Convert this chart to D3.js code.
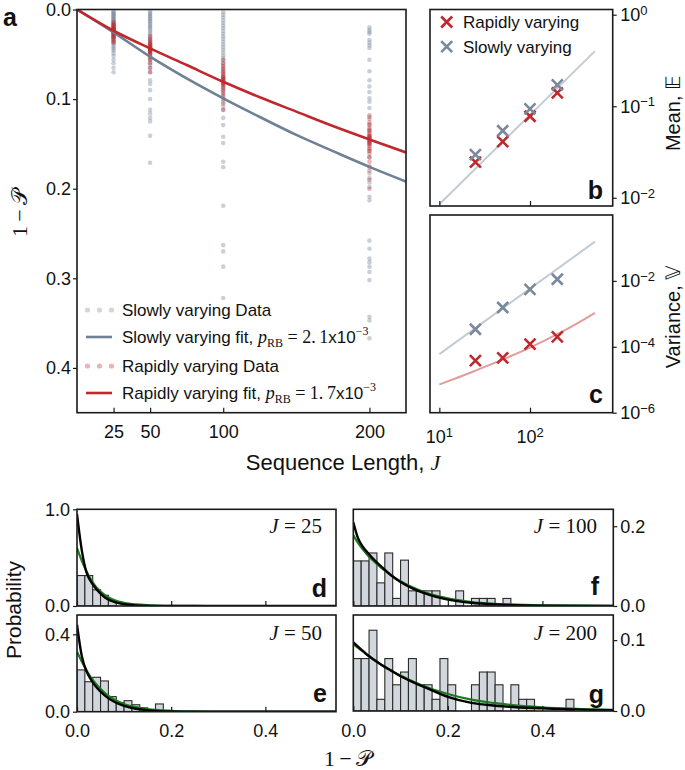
<!DOCTYPE html>
<html><head><meta charset="utf-8">
<script src="https://cdn.jsdelivr.net/npm/d3@7"></script>
<style>body{margin:0;background:#fff} svg{display:block}</style>
</head><body><svg id="chart" width="685" height="770"></svg>
<script>
// ---------------- DATA ----------------
const seqLengths = [25, 50, 100, 200];
const aTicksY = [0.0, 0.1, 0.2, 0.3, 0.4];
// panel a: individual sequence results, 1-P
const slowData25 = [0.002,0.003,0.004,0.005,0.006,0.007,0.008,0.009,0.010,0.011,0.012,0.013,0.014,0.015,0.016,0.017,0.018,0.019,0.020,0.021,0.022,0.023,0.024,0.025,0.026,0.027,0.028,0.030,0.031,0.033,0.034,0.036,0.038,0.040,0.042,0.044,0.046,0.049,0.052,0.056,0.060,0.065,0.070];
const slowData50 = [0.002,0.004,0.005,0.007,0.008,0.010,0.011,0.013,0.014,0.016,0.018,0.019,0.021,0.023,0.025,0.027,0.029,0.031,0.033,0.035,0.037,0.039,0.041,0.043,0.045,0.047,0.050,0.053,0.056,0.059,0.062,0.066,0.070,0.079,0.083,0.090,0.100,0.112,0.116,0.121,0.125,0.141,0.171];
const slowData100 = [0.003,0.006,0.009,0.012,0.015,0.018,0.021,0.024,0.027,0.030,0.033,0.036,0.039,0.042,0.045,0.048,0.051,0.054,0.057,0.060,0.063,0.066,0.070,0.074,0.078,0.082,0.086,0.090,0.094,0.098,0.103,0.108,0.112,0.121,0.129,0.142,0.149,0.170,0.176,0.219,0.263,0.270,0.287,0.322];
const slowData200 = [0.020,0.023,0.025,0.027,0.034,0.037,0.040,0.043,0.056,0.069,0.079,0.086,0.092,0.099,0.103,0.110,0.120,0.128,0.135,0.142,0.150,0.158,0.165,0.176,0.183,0.188,0.193,0.198,0.209,0.213,0.258,0.267,0.278,0.282,0.287,0.293,0.302,0.343,0.347,0.367];
const rapidData25 = [0.014,0.016,0.017,0.018,0.019,0.020,0.021,0.022,0.022,0.023,0.023,0.024,0.024,0.025,0.025,0.026,0.027,0.028,0.029,0.030,0.031,0.032,0.034,0.036,0.037];
const rapidData50 = [0.030,0.033,0.035,0.037,0.038,0.039,0.040,0.041,0.042,0.043,0.043,0.044,0.045,0.045,0.046,0.047,0.048,0.049,0.050,0.052,0.054,0.056,0.060,0.065,0.070];
const rapidData100 = [0.056,0.060,0.063,0.066,0.068,0.070,0.072,0.074,0.075,0.076,0.077,0.078,0.079,0.080,0.081,0.082,0.083,0.084,0.086,0.088,0.090,0.093,0.096,0.100,0.105,0.112];
const rapidData200 = [0.118,0.122,0.126,0.129,0.132,0.134,0.136,0.138,0.140,0.141,0.142,0.143,0.144,0.145,0.146,0.147,0.148,0.149,0.150,0.152,0.154,0.156,0.158,0.161,0.165,0.170,0.175,0.180,0.190,0.200];
// panel a fits
const fitJ = [0, 25, 50, 75, 100, 125, 150, 175, 200, 225];
const slowFit = [0, 0.0255, 0.0527, 0.0770, 0.0992, 0.1200, 0.1400, 0.1580, 0.1756, 0.1920];
const rapidFit = [0, 0.0237, 0.0434, 0.0620, 0.0807, 0.0980, 0.1140, 0.1300, 0.1450, 0.1596];
// panel b: mean
const meanRapid = [0.0245, 0.041, 0.0778, 0.140];
const meanSlow = [0.0296, 0.054, 0.0934, 0.171];
const meanFitJ = [10, 520];
const meanFit = [0.0085, 0.40];
const bTicks = [1, 0.1, 0.01];
const bTickExp = ["0", "\u22121", "\u22122"];
// panel c: variance
const varRapid = [3.8e-5, 4.6e-5, 1.2e-4, 2.0e-4];
const varSlow = [3.4e-4, 1.56e-3, 5.5e-3, 0.0112];
const varFitJ = [10, 15, 25, 40, 50, 70, 100, 150, 200, 300, 400, 520];
const varFitRapid = [7.2e-6, 1.09e-5, 1.89e-5, 3.18e-5, 4.1e-5, 6.1e-5, 9.5e-5, 1.62e-4, 2.42e-4, 4.41e-4, 6.92e-4, 1.07e-3];
const varFitSlowJ = [10, 520];
const varFitSlow = [6e-5, 0.155];
const cTicks = [1e-2, 1e-4, 1e-6];
const cTickExp = ["\u22122", "\u22124", "\u22126"];
const bcXTicks = [10, 100];
const bcXTickExp = ["1", "2"];
// histograms (bin width 1/60)
const binWidth = 1 / 60;
const histD = [0.315, 0.315, 0.167, 0.111, 0.056];
const histE = [0.216, 0.155, 0.178, 0.159, 0.078, 0.047, 0.057, 0.036, 0.020, 0, 0.040];
const histF = [0.113, 0.113, 0.133, 0.058, 0.133, 0.019, 0.115, 0.038, 0.038, 0.038, 0.038, 0, 0, 0.038, 0, 0.019, 0.019, 0.019, 0, 0.019];
const histG = [0.074, 0.074, 0.114, 0.0165, 0.074, 0.037, 0.055, 0.074, 0.037, 0.037, 0.0165, 0.074, 0.037, 0, 0, 0.037, 0.055, 0.055, 0.037, 0, 0.037, 0.0165, 0.0165, 0, 0, 0, 0, 0.0165];
const curveX = [0, 0.01, 0.02, 0.03, 0.04, 0.06, 0.08, 0.1, 0.125, 0.15, 0.2, 0.25, 0.3, 0.4, 0.55];
const blackD = [0.95, 0.58, 0.35, 0.25, 0.18, 0.085, 0.04, 0.018, 0.006, 0.002, 0, 0, 0, 0, 0];
const greenD = [0.60, 0.47, 0.36, 0.27, 0.20, 0.11, 0.06, 0.033, 0.016, 0.008, 0.002, 0.0005, 0, 0, 0];
const blackE = [0.45, 0.29, 0.21, 0.165, 0.13, 0.082, 0.05, 0.03, 0.015, 0.007, 0.0015, 0.0003, 0, 0, 0];
const greenE = [0.31, 0.26, 0.215, 0.175, 0.145, 0.095, 0.062, 0.04, 0.024, 0.014, 0.005, 0.0017, 0.0005, 0, 0];
const blackF = [0.21, 0.17, 0.149, 0.134, 0.121, 0.098, 0.077, 0.06, 0.044, 0.032, 0.016, 0.008, 0.004, 0.001, 0];
const greenF = [0.178, 0.158, 0.142, 0.128, 0.116, 0.095, 0.077, 0.062, 0.047, 0.035, 0.019, 0.01, 0.0055, 0.0015, 0.0002];
const blackG = [0.097, 0.091, 0.085, 0.079, 0.074, 0.065, 0.057, 0.049, 0.041, 0.034, 0.02, 0.0115, 0.0075, 0.0037, 0.0012];
const greenG = [0.094, 0.089, 0.084, 0.079, 0.074, 0.065, 0.057, 0.05, 0.042, 0.035, 0.024, 0.016, 0.011, 0.005, 0.0017];
const histXTicks = [0, 0.2, 0.4];

// ---------------- DRAWING ----------------
const svg = d3.select("#chart");
const SANS = '"Liberation Sans", Arial, sans-serif';
const SERIF = '"Liberation Serif", "DejaVu Serif", serif';
const RED = "#c0282d", SLATE = "#708095", SLATE_PT = "#7a899c", LIGHT = "#c3cbd3", LRED = "#e39c9c", GREEN = "#1f7a1f";

function addClip(id, p) {
  svg.append("clipPath").attr("id", id).append("rect")
    .attr("x", p.x0).attr("y", p.y0).attr("width", p.x1 - p.x0).attr("height", p.y1 - p.y0);
}
function frame(p) {
  svg.append("rect").attr("x", p.x0).attr("y", p.y0).attr("width", p.x1 - p.x0).attr("height", p.y1 - p.y0)
    .attr("fill", "none").attr("stroke", "#1a1a1a").attr("stroke-width", 1.6);
}
function styleAxis(g, size) {
  g.select(".domain").remove();
  g.selectAll("text").attr("font-family", SANS).attr("font-size", size).attr("fill", "#111");
  g.selectAll("line").attr("stroke", "#1a1a1a").attr("stroke-width", 1.2);
}
function powLabel(x, y, exp, anchor) {
  const t = svg.append("text").attr("x", x).attr("y", y).attr("font-family", SANS)
    .attr("font-size", 18).attr("fill", "#111").attr("text-anchor", anchor || "start");
  t.append("tspan").text("10");
  t.append("tspan").attr("dy", "-0.5em").attr("font-size", 13).text(exp);
}
function panelLabel(x, y, s) {
  svg.append("text").attr("x", x).attr("y", y).attr("text-anchor", "end").attr("font-family", SANS)
    .attr("font-weight", "bold").attr("font-size", 25).attr("fill", "#111").text(s);
}
function xMark(g, x, y, color) {
  g.append("path").attr("transform", `translate(${x},${y})`).attr("d", "M-5.5,-5.5L5.5,5.5M-5.5,5.5L5.5,-5.5")
    .attr("stroke", color).attr("stroke-width", 2.6).attr("fill", "none");
}

// ---- Panel a ----
const A = {x0: 77, x1: 406, y0: 9.5, y1: 412.7};
const xA = d3.scaleLinear().domain([0, 225]).range([A.x0, A.x1]);
const yA = d3.scaleLinear().domain([0, 0.45]).range([A.y0, A.y1]);
addClip("clipA", A);
const gA = svg.append("g").attr("clip-path", "url(#clipA)");
const slowAll = [slowData25, slowData50, slowData100, slowData200];
const rapidAll = [rapidData25, rapidData50, rapidData100, rapidData200];
slowAll.forEach((arr, i) => {
  gA.selectAll(null).data(arr).join("circle").attr("cx", xA(seqLengths[i])).attr("cy", d => yA(d))
    .attr("r", 2.3).attr("fill", SLATE_PT).attr("fill-opacity", 0.4);
});
rapidAll.forEach((arr, i) => {
  gA.selectAll(null).data(arr).join("circle").attr("cx", xA(seqLengths[i])).attr("cy", d => yA(d))
    .attr("r", 2.3).attr("fill", RED).attr("fill-opacity", 0.35);
});
const lineA = d3.line().x(d => xA(d[0])).y(d => yA(d[1])).curve(d3.curveMonotoneX);
gA.append("path").attr("d", lineA(fitJ.map((j, i) => [j, slowFit[i]]))).attr("fill", "none").attr("stroke", SLATE).attr("stroke-width", 2.6);
gA.append("path").attr("d", lineA(fitJ.map((j, i) => [j, rapidFit[i]]))).attr("fill", "none").attr("stroke", RED).attr("stroke-width", 2.6);
frame(A);
svg.append("g").attr("transform", `translate(0,${A.y1})`)
  .call(d3.axisBottom(xA).tickValues(seqLengths).tickSizeInner(-5).tickSizeOuter(0).tickPadding(13).tickFormat(d3.format("d")))
  .call(g => styleAxis(g, 18));
svg.append("g").attr("transform", `translate(${A.x0},0)`)
  .call(d3.axisLeft(yA).tickValues(aTicksY).tickSizeInner(4).tickSizeOuter(0).tickPadding(2).tickFormat(d3.format(".1f")))
  .call(g => styleAxis(g, 18));
// legend a
const legA = svg.append("g");
const legRows = [
  {y: 310, type: "dots", color: SLATE_PT, label: "Slowly varying Data"},
  {y: 337, type: "line", color: SLATE, label: "Slowly varying fit, ", val: "2.\u20091"},
  {y: 366, type: "dots", color: RED, label: "Rapidly varying Data"},
  {y: 393, type: "line", color: RED, label: "Rapidly varying fit, ", val: "1.\u20097"}
];
legRows.forEach(r => {
  if (r.type === "dots") {
    [87.5, 99.5, 111.5].forEach(x => legA.append("circle").attr("cx", x).attr("cy", r.y).attr("r", 2.6).attr("fill", r.color).attr("fill-opacity", 0.35));
  } else {
    legA.append("line").attr("x1", 86).attr("x2", 112).attr("y1", r.y).attr("y2", r.y).attr("stroke", r.color).attr("stroke-width", 2.6);
  }
  const t = legA.append("text").attr("x", 122).attr("y", r.y + 6).attr("font-family", SANS).attr("font-size", 17).attr("fill", "#111");
  t.append("tspan").text(r.label);
  if (r.val) {
    t.append("tspan").attr("font-family", SERIF).attr("font-style", "italic").attr("font-size", 18).text("p");
    t.append("tspan").attr("font-family", SERIF).attr("font-size", 12).attr("dy", 4).text("RB");
    t.append("tspan").attr("font-family", SERIF).attr("font-size", 18).attr("dy", -4).text(" = " + r.val);
    t.append("tspan").text("x10");
    t.append("tspan").attr("font-family", SERIF).attr("font-size", 12).attr("dy", -8).text("\u22123");
  }
});
// labels a
svg.append("text").attr("transform", "translate(27,213) rotate(-90)").attr("text-anchor", "middle")
  .attr("font-family", SERIF).attr("font-size", 22).attr("fill", "#111")
  .text("1\u2009\u2212\u2009\uD835\uDCAB");
const xl = svg.append("text").attr("x", 343).attr("y", 470).attr("text-anchor", "middle").attr("font-family", SANS).attr("font-size", 22).attr("fill", "#111");
xl.append("tspan").text("Sequence Length, ");
xl.append("tspan").attr("font-family", SERIF).attr("font-style", "italic").text("J");
svg.append("text").attr("x", 3).attr("y", 26).attr("font-family", SANS).attr("font-weight", "bold").attr("font-size", 25).attr("fill", "#111").text("a");

// ---- Panels b, c ----
const B = {x0: 430, x1: 612.7, y0: 9.5, y1: 206};
const C = {x0: 430, x1: 612.7, y0: 215, y1: 412.7};
const xBC = d3.scaleLog().domain([Math.pow(10, 0.897), Math.pow(10, 2.912)]).range([B.x0, B.x1]);
const yB = d3.scaleLog().domain([Math.pow(10, -2.09), Math.pow(10, 0.057)]).range([B.y1, B.y0]);
const yC = d3.scaleLog().domain([1e-6, 1]).range([C.y1, C.y0]);
addClip("clipB", B); addClip("clipC", C);
const gB = svg.append("g").attr("clip-path", "url(#clipB)");
const lineB = d3.line().x(d => xBC(d[0])).y(d => yB(d[1]));
gB.append("path").attr("d", lineB(meanFitJ.map((j, i) => [j, meanFit[i]]))).attr("fill", "none").attr("stroke", LIGHT).attr("stroke-width", 2);
seqLengths.forEach((j, i) => xMark(gB, xBC(j), yB(meanRapid[i]), RED));
seqLengths.forEach((j, i) => xMark(gB, xBC(j), yB(meanSlow[i]), SLATE_PT));
xMark(svg, 446.7, 22, RED);
xMark(svg, 446.7, 46.7, SLATE_PT);
svg.append("text").attr("x", 463).attr("y", 28).attr("font-family", SANS).attr("font-size", 17).attr("fill", "#111").text("Rapidly varying");
svg.append("text").attr("x", 463).attr("y", 52.7).attr("font-family", SANS).attr("font-size", 17).attr("fill", "#111").text("Slowly varying");
frame(B);

const gC = svg.append("g").attr("clip-path", "url(#clipC)");
const lineC = d3.line().x(d => xBC(d[0])).y(d => yC(d[1])).curve(d3.curveMonotoneX);
gC.append("path").attr("d", lineC(varFitSlowJ.map((j, i) => [j, varFitSlow[i]]))).attr("fill", "none").attr("stroke", LIGHT).attr("stroke-width", 2);
gC.append("path").attr("d", lineC(varFitJ.map((j, i) => [j, varFitRapid[i]]))).attr("fill", "none").attr("stroke", LRED).attr("stroke-width", 2);
seqLengths.forEach((j, i) => xMark(gC, xBC(j), yC(varSlow[i]), SLATE_PT));
seqLengths.forEach((j, i) => xMark(gC, xBC(j), yC(varRapid[i]), RED));
frame(C);

[[B, yB, bTicks, bTickExp], [C, yC, cTicks, cTickExp]].forEach(([P, ys, ticks, exps]) => {
  svg.append("g").attr("transform", `translate(0,${P.y1})`)
    .call(d3.axisBottom(xBC).tickValues(bcXTicks).tickSizeInner(-5).tickSizeOuter(0).tickFormat(""))
    .call(g => styleAxis(g, 18));
  svg.append("g").attr("transform", `translate(${P.x1},0)`)
    .call(d3.axisRight(ys).tickValues(ticks).tickSizeInner(4).tickSizeOuter(0).tickFormat(""))
    .call(g => styleAxis(g, 18));
  ticks.forEach((t, i) => powLabel(P.x1 + 7.5, ys(t) + 6.5, exps[i], "start"));
});
bcXTicks.forEach((t, i) => powLabel(xBC(t), 443, bcXTickExp[i], "middle"));
panelLabel(603, 199, "b");
panelLabel(603, 403, "c");
svg.append("text").attr("transform", "translate(680,113) rotate(-90)").attr("text-anchor", "middle")
  .attr("font-family", SANS).attr("font-size", 20).attr("fill", "#111").text("Mean, \uD835\uDD3C");
svg.append("text").attr("transform", "translate(680,317) rotate(-90)").attr("text-anchor", "middle")
  .attr("font-family", SANS).attr("font-size", 20).attr("fill", "#111").text("Variance, \uD835\uDD4D");

// ---- Histogram panels d-g ----
const panels = [
  {id: "d", x0: 77, x1: 336, y0: 509.3, y1: 606, ymax: 1.0, hist: histD, black: blackD, green: greenD, side: "left", yt: [0, 1.0], J: "25", xl: false, lab: [327, 597], jl: [322, 533]},
  {id: "e", x0: 77, x1: 336, y0: 615, y1: 711.7, ymax: 0.5, hist: histE, black: blackE, green: greenE, side: "left", yt: [0, 0.4], J: "50", xl: true, lab: [327, 702], jl: [322, 640]},
  {id: "f", x0: 353.3, x1: 613.3, y0: 509.3, y1: 606, ymax: 0.2425, hist: histF, black: blackF, green: greenF, side: "right", yt: [0, 0.2], J: "100", xl: false, lab: [599, 595], jl: [597, 533]},
  {id: "g", x0: 353.3, x1: 613.3, y0: 615, y1: 711, ymax: 0.1355, hist: histG, black: blackG, green: greenG, side: "right", yt: [0, 0.1], J: "200", xl: true, lab: [604, 703], jl: [597, 640]}
];
panels.forEach(p => {
  const xs = d3.scaleLinear().domain([0, 0.55]).range([p.x0, p.x1]);
  const ys = d3.scaleLinear().domain([0, p.ymax]).range([p.y1, p.y0]);
  addClip("clip" + p.id, p);
  const g = svg.append("g").attr("clip-path", `url(#clip${p.id})`);
  g.selectAll(null).data(p.hist.map((v, i) => ({v, i})).filter(d => d.v > 0)).join("rect")
    .attr("x", d => xs(d.i * binWidth)).attr("width", xs(binWidth) - xs(0))
    .attr("y", d => ys(d.v)).attr("height", d => ys(0) - ys(d.v))
    .attr("fill", "#d2d7dd").attr("stroke", "#2a2a2a").attr("stroke-width", 1.1);
  const ln = d3.line().x(d => xs(d[0])).y(d => ys(d[1])).curve(d3.curveMonotoneX);
  g.append("path").attr("d", ln(curveX.map((x, i) => [x, p.green[i]]))).attr("fill", "none").attr("stroke", GREEN).attr("stroke-width", 2.2);
  g.append("path").attr("d", ln(curveX.map((x, i) => [x, p.black[i]]))).attr("fill", "none").attr("stroke", "#000").attr("stroke-width", 2.4);
  frame(p);
  const xa = d3.axisBottom(xs).tickValues(histXTicks).tickSizeInner(-5).tickSizeOuter(0).tickPadding(13)
    .tickFormat(p.xl ? d3.format(".1f") : "");
  svg.append("g").attr("transform", `translate(0,${p.y1})`).call(xa).call(g2 => styleAxis(g2, 18));
  const ya = (p.side === "left" ? d3.axisLeft(ys) : d3.axisRight(ys)).tickValues(p.yt).tickSizeInner(4).tickSizeOuter(0).tickPadding(3).tickFormat(d3.format(".1f"));
  svg.append("g").attr("transform", `translate(${p.side === "left" ? p.x0 : p.x1},0)`).call(ya).call(g2 => styleAxis(g2, 18));
  panelLabel(p.lab[0], p.lab[1], p.id);
  const jt = svg.append("text").attr("x", p.jl[0]).attr("y", p.jl[1]).attr("text-anchor", "end")
    .attr("font-family", SERIF).attr("font-size", 21).attr("fill", "#111");
  jt.append("tspan").attr("font-style", "italic").text("J");
  jt.append("tspan").text(" = " + p.J);
});
svg.append("text").attr("transform", "translate(21,610) rotate(-90)").attr("text-anchor", "middle")
  .attr("font-family", SANS).attr("font-size", 21).attr("fill", "#111").text("Probability");
svg.append("text").attr("x", 348).attr("y", 766).attr("text-anchor", "middle")
  .attr("font-family", SERIF).attr("font-size", 22).attr("fill", "#111").text("1\u2009\u2212\u2009\uD835\uDCAB");
</script></body></html>
